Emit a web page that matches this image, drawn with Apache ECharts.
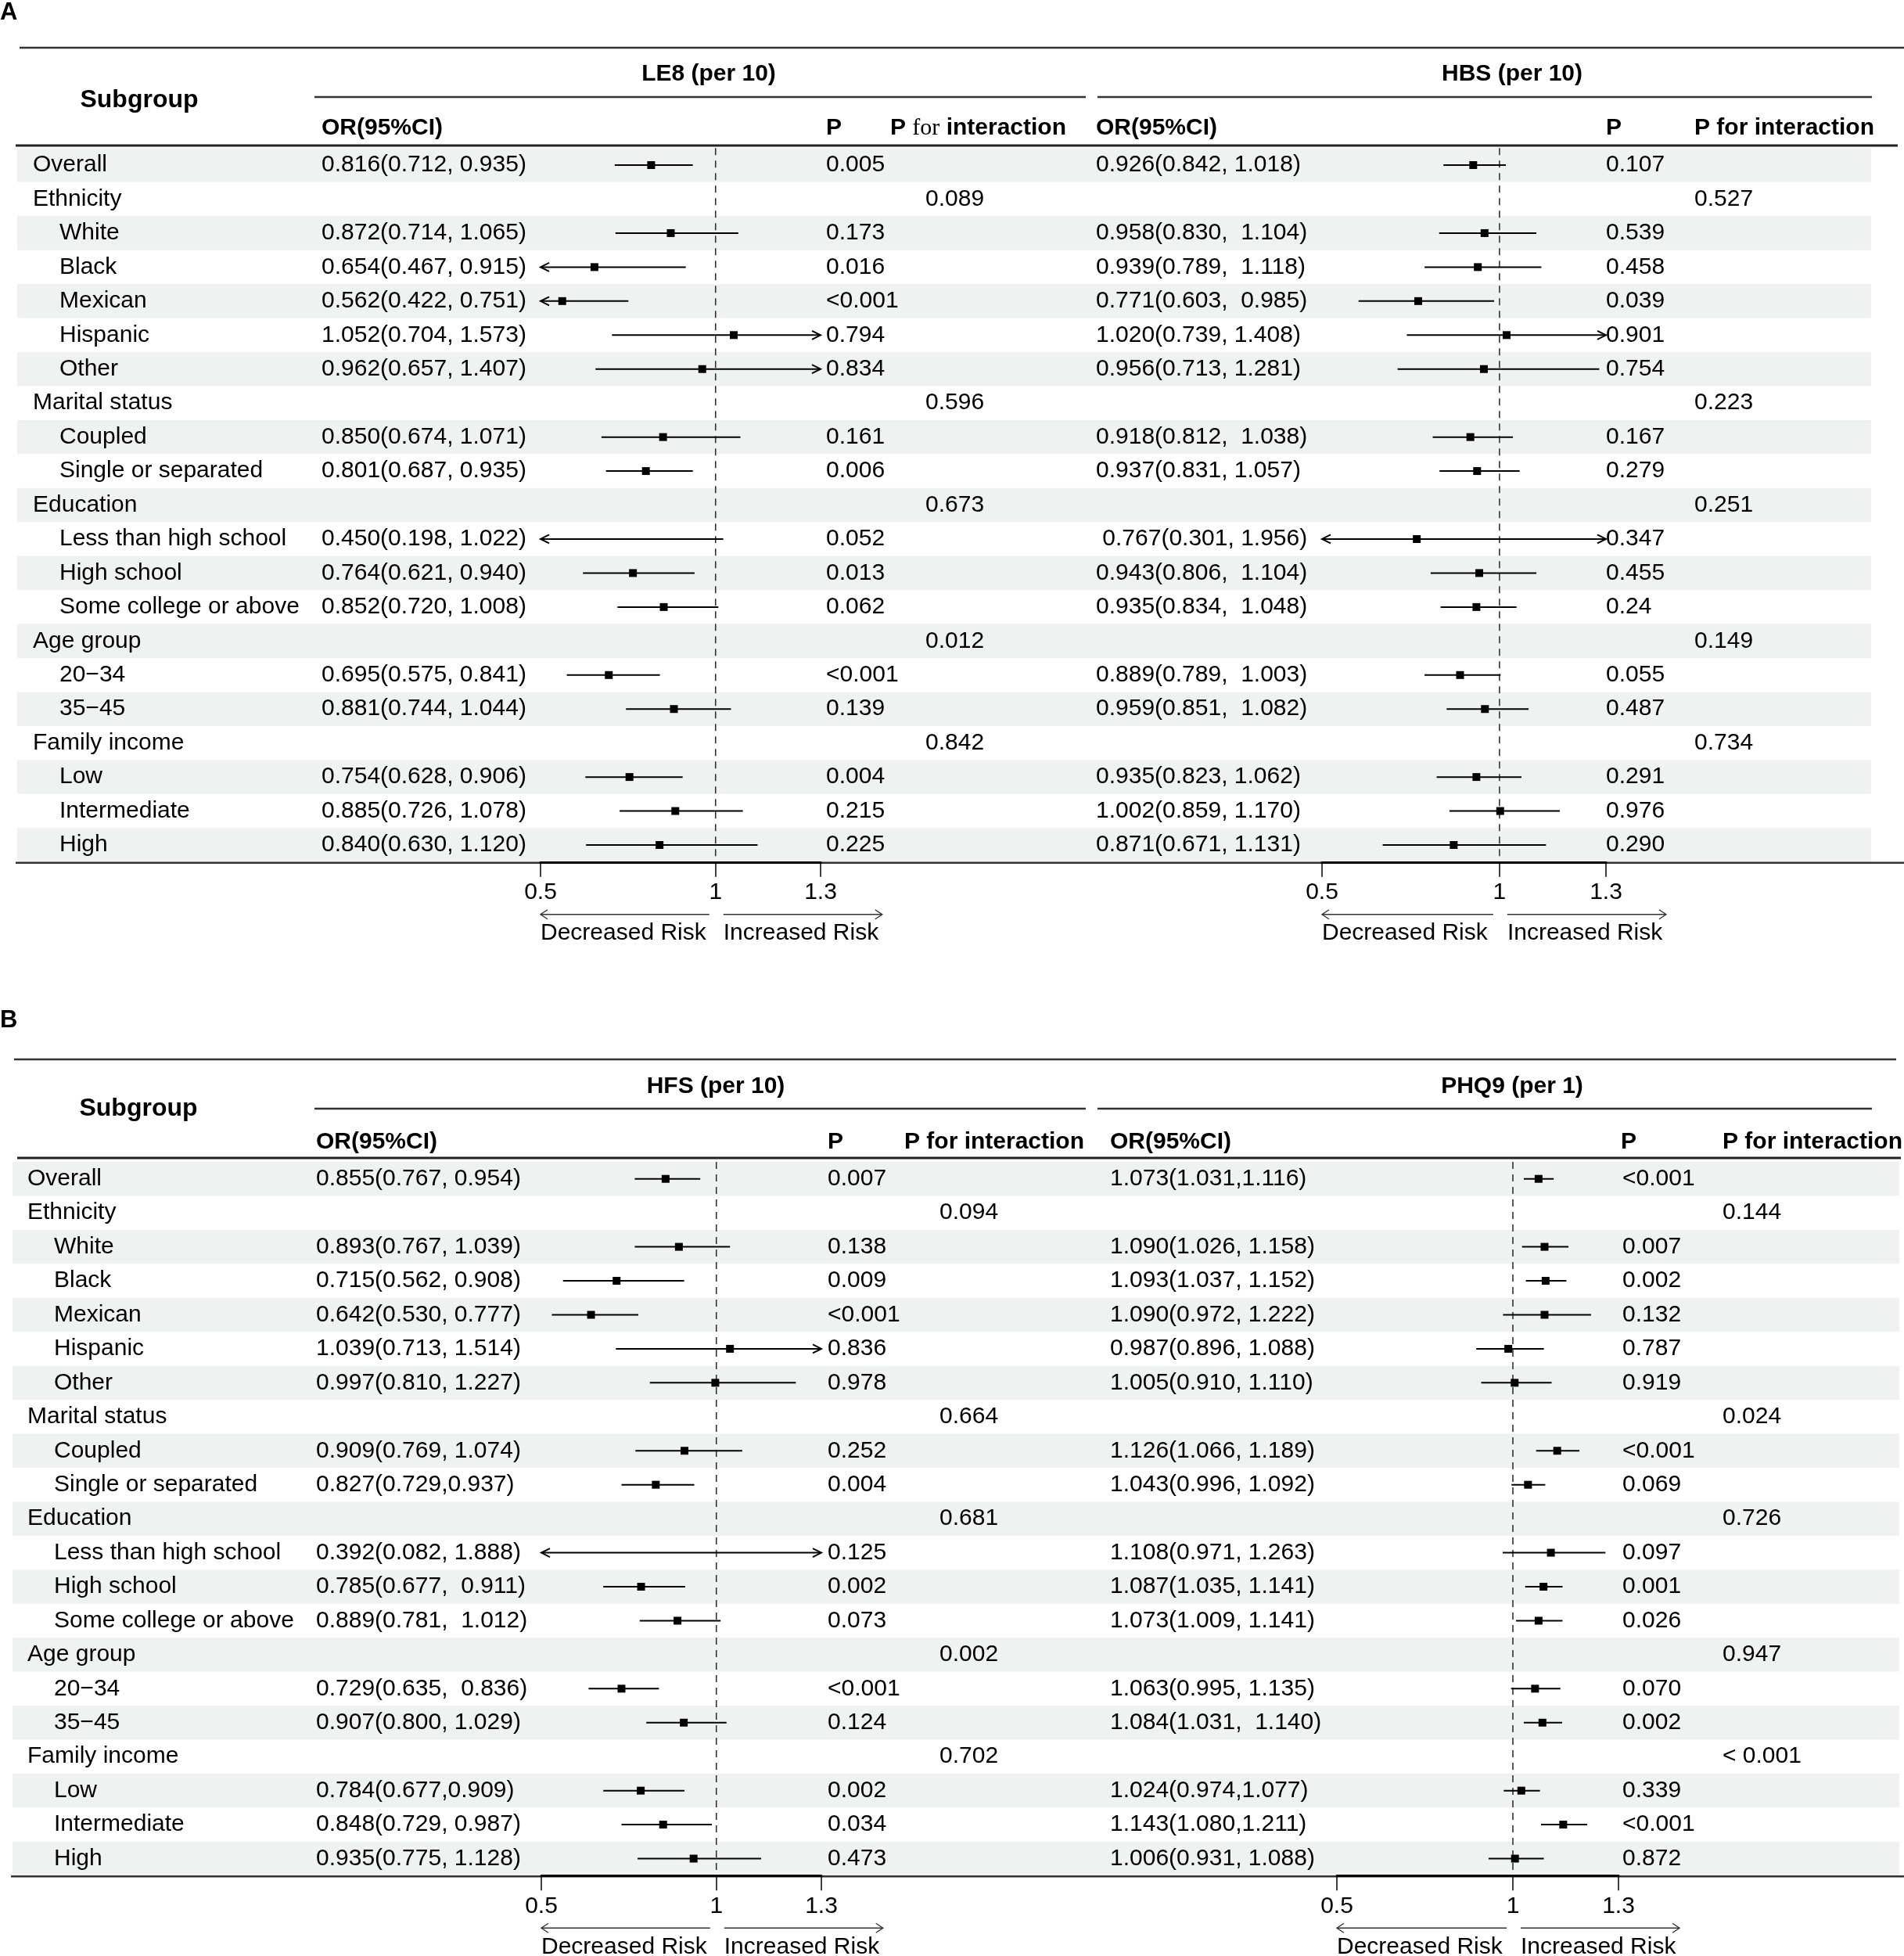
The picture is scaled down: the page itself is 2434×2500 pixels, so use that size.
<!DOCTYPE html>
<html>
<head>
<meta charset="utf-8">
<script src="https://cdn.jsdelivr.net/npm/echarts@6/dist/echarts.min.js"></script>
<style>html,body{margin:0;padding:0;background:#fff}#c{width:2434px;height:2500px}</style>
</head>
<body>
<div id="c"></div>
<script>
// ---------------- DATA ----------------
const subgroups = ['Overall','Ethnicity','White','Black','Mexican','Hispanic','Other','Marital status','Coupled','Single or separated','Education','Less than high school','High school','Some college or above','Age group','20\u221234','35\u221245','Family income','Low','Intermediate','High'];
const levels = [0,0,1,1,1,1,1,0,1,1,0,1,1,1,0,1,1,0,1,1,1];

const le8CI = ['0.816(0.712, 0.935)','','0.872(0.714, 1.065)','0.654(0.467, 0.915)','0.562(0.422, 0.751)','1.052(0.704, 1.573)','0.962(0.657, 1.407)','','0.850(0.674, 1.071)','0.801(0.687, 0.935)','','0.450(0.198, 1.022)','0.764(0.621, 0.940)','0.852(0.720, 1.008)','','0.695(0.575, 0.841)','0.881(0.744, 1.044)','','0.754(0.628, 0.906)','0.885(0.726, 1.078)','0.840(0.630, 1.120)'];
const le8P = ['0.005','','0.173','0.016','<0.001','0.794','0.834','','0.161','0.006','','0.052','0.013','0.062','','<0.001','0.139','','0.004','0.215','0.225'];
const le8PInt = ['','0.089','','','','','','0.596','','','0.673','','','','0.012','','','0.842','','',''];

const hbsCI = ['0.926(0.842, 1.018)','','0.958(0.830,  1.104)','0.939(0.789,  1.118)','0.771(0.603,  0.985)','1.020(0.739, 1.408)','0.956(0.713, 1.281)','','0.918(0.812,  1.038)','0.937(0.831, 1.057)','',' 0.767(0.301, 1.956)','0.943(0.806,  1.104)','0.935(0.834,  1.048)','','0.889(0.789,  1.003)','0.959(0.851,  1.082)','','0.935(0.823, 1.062)','1.002(0.859, 1.170)','0.871(0.671, 1.131)'];
const hbsP = ['0.107','','0.539','0.458','0.039','0.901','0.754','','0.167','0.279','','0.347','0.455','0.24','','0.055','0.487','','0.291','0.976','0.290'];
const hbsPInt = ['','0.527','','','','','','0.223','','','0.251','','','','0.149','','','0.734','','',''];

const hfsCI = ['0.855(0.767, 0.954)','','0.893(0.767, 1.039)','0.715(0.562, 0.908)','0.642(0.530, 0.777)','1.039(0.713, 1.514)','0.997(0.810, 1.227)','','0.909(0.769, 1.074)','0.827(0.729,0.937)','','0.392(0.082, 1.888)','0.785(0.677,  0.911)','0.889(0.781,  1.012)','','0.729(0.635,  0.836)','0.907(0.800, 1.029)','','0.784(0.677,0.909)','0.848(0.729, 0.987)','0.935(0.775, 1.128)'];
const hfsP = ['0.007','','0.138','0.009','<0.001','0.836','0.978','','0.252','0.004','','0.125','0.002','0.073','','<0.001','0.124','','0.002','0.034','0.473'];
const hfsPInt = ['','0.094','','','','','','0.664','','','0.681','','','','0.002','','','0.702','','',''];

const phq9CI = ['1.073(1.031,1.116)','','1.090(1.026, 1.158)','1.093(1.037, 1.152)','1.090(0.972, 1.222)','0.987(0.896, 1.088)','1.005(0.910, 1.110)','','1.126(1.066, 1.189)','1.043(0.996, 1.092)','','1.108(0.971, 1.263)','1.087(1.035, 1.141)','1.073(1.009, 1.141)','','1.063(0.995, 1.135)','1.084(1.031,  1.140)','','1.024(0.974,1.077)','1.143(1.080,1.211)','1.006(0.931, 1.088)'];
const phq9P = ['<0.001','','0.007','0.002','0.132','0.787','0.919','','<0.001','0.069','','0.097','0.001','0.026','','0.070','0.002','','0.339','<0.001','0.872'];
const phq9PInt = ['','0.144','','','','','','0.024','','','0.726','','','','0.947','','','< 0.001','','',''];

const axisMin = 0.5, axisMax = 1.3;
const tickValues = [0.5, 1, 1.3];
const refValue = 1;

// ---------------- LAYOUT / STYLE ----------------
const FONT = "'Liberation Sans', Arial, Helvetica, sans-serif";
const FS = 30;
const SHADE = '#eff2f1';
const NROW = subgroups.length;

const panels = [
  { tag:'A', tagY:16, topLine:[61,25,2434], titleY:95, subX:178, subY:128, subLineY:124,
    headY:164, headLine:[186,20,2426], rowTop:189.3, rowH:43.45, shade:[22,2392], lab:[42,76],
    cols:{orL:411,pL:1056,piL:1183,orR:1401,pR:2053,piR:2166},
    heads:{orL:411,pL:1056,piL:1138,orR:1401,pR:2053,piR:2166},
    forestL:[691,1049], forestR:[1690,2053], titleL:906, titleR:1933, serifFor:true,
    nameL:'LE8 (per 10)', nameR:'HBS (per 10)',
    L:{ci:le8CI,p:le8P,pi:le8PInt}, R:{ci:hbsCI,p:hbsP,pi:hbsPInt} },
  { tag:'B', tagY:1304, topLine:[1354,18,2424], titleY:1389, subX:177, subY:1417, subLineY:1417,
    headY:1460, headLine:[1480,22,2430], rowTop:1485, rowH:43.44, shade:[16,2428], lab:[35,69],
    cols:{orL:404,pL:1058,piL:1201,orR:1419,pR:2074,piR:2202},
    heads:{orL:404,pL:1058,piL:1156,orR:1419,pR:2072,piR:2202},
    forestL:[692,1050], forestR:[1709,2069], titleL:915, titleR:1933, serifFor:false,
    nameL:'HFS (per 10)', nameR:'PHQ9 (per 1)',
    L:{ci:hfsCI,p:hfsP,pi:hfsPInt}, R:{ci:phq9CI,p:phq9P,pi:phq9PInt} }
];

function parseCI(arr) {
  const out = [];
  arr.forEach((s, i) => {
    const m = s.match(/([\d.]+)\(([\d.]+),\s*([\d.]+)\)/);
    if (m) out.push([i, +m[1], +m[2], +m[3]]);
  });
  return out;
}

// ---------------- BUILD OPTION ----------------
const grid = [], xAxis = [], yAxis = [], series = [], graphics = [];

function txt(x, y, text, opt) {
  return { type:'text', x:x, y:y, z:20, style: Object.assign({
    text:text, fontSize:FS, fontFamily:FONT, fill:'#000', align:'left', verticalAlign:'middle'
  }, opt || {}) };
}
function hline(y, x1, x2, w, c) {
  return { type:'line', z:20, shape:{x1:x1, y1:y, x2:x2, y2:y}, style:{stroke:c || '#333', lineWidth:w || 2.5} };
}

panels.forEach((P, pi) => {
  const gh = NROW * P.rowH;
  const bottom = P.rowTop + gh;

  // headers (static text)
  graphics.push(txt(0, P.tagY, P.tag, {fontWeight:'bold', fontSize:31}));
  graphics.push(hline(P.topLine[0], P.topLine[1], P.topLine[2], 2.5, '#333'));
  graphics.push(txt(P.subX, P.subY, 'Subgroup', {fontWeight:'bold', fontSize:32, align:'center'}));
  graphics.push(txt(P.titleL, P.titleY, P.nameL, {fontWeight:'bold', align:'center'}));
  graphics.push(txt(P.titleR, P.titleY, P.nameR, {fontWeight:'bold', align:'center'}));
  graphics.push(hline(P.subLineY, 402, 1388, 2.5, '#333'));
  graphics.push(hline(P.subLineY, 1403, 2393, 2.5, '#333'));
  const hb = {fontWeight:'bold'};
  graphics.push(txt(P.heads.orL, P.headY, 'OR(95%CI)', hb));
  graphics.push(txt(P.heads.pL, P.headY, 'P', hb));
  if (P.serifFor) {
    graphics.push(txt(P.heads.piL, P.headY, '{b|P }{s|for}{b| interaction}', {
      rich:{ b:{fontWeight:'bold', fontFamily:FONT, fontSize:FS, fill:'#000'},
             s:{fontWeight:'normal', fontFamily:"'Liberation Serif', 'Times New Roman', serif", fontSize:FS, fill:'#000'} }
    }));
  } else {
    graphics.push(txt(P.heads.piL, P.headY, 'P for interaction', hb));
  }
  graphics.push(txt(P.heads.orR, P.headY, 'OR(95%CI)', hb));
  graphics.push(txt(P.heads.pR, P.headY, 'P', hb));
  graphics.push(txt(P.heads.piR, P.headY, 'P for interaction', hb));
  graphics.push(hline(P.headLine[0], P.headLine[1], P.headLine[2], 3, '#222'));
  graphics.push(hline(bottom + 1, P.shade[0] - 2, 2434, 2.5, '#333'));

  // table grid
  const gT = grid.length;
  grid.push({ left:0, width:2434, top:P.rowTop, height:gh });
  xAxis.push({ type:'value', gridIndex:gT, min:0, max:2434, show:false });
  yAxis.push({ type:'value', gridIndex:gT, min:-0.5, max:NROW - 0.5, inverse:true, show:false });
  series.push({
    type:'custom', xAxisIndex:gT, yAxisIndex:gT, z:1, silent:true,
    data: subgroups.map((s, i) => [i]),
    renderItem: function (params, api) {
      const i = api.value(0);
      const top = api.coord([0, i - 0.5])[1];
      const bot = api.coord([0, i + 0.5])[1];
      const y = (top + bot) / 2;
      const ch = [];
      if (i % 2 === 0) {
        ch.push({ type:'rect', shape:{x:P.shade[0], y:top, width:P.shade[1] - P.shade[0], height:bot - top}, style:{fill:SHADE} });
      }
      const t = (x, s) => { if (s) ch.push({ type:'text', x:x, y:y, style:{text:s, fontSize:FS, fontFamily:FONT, fill:'#000', align:'left', verticalAlign:'middle'} }); };
      t(P.lab[levels[i]], subgroups[i]);
      t(P.cols.orL, P.L.ci[i]); t(P.cols.pL, P.L.p[i]); t(P.cols.piL, P.L.pi[i]);
      t(P.cols.orR, P.R.ci[i]); t(P.cols.pR, P.R.p[i]); t(P.cols.piR, P.R.pi[i]);
      return { type:'group', children:ch };
    }
  });

  // forest grids
  [[P.forestL, P.L], [P.forestR, P.R]].forEach(([fx, D]) => {
    const g = grid.length;
    grid.push({ left:fx[0], width:fx[1] - fx[0], top:P.rowTop, height:gh });
    xAxis.push({
      type:'value', gridIndex:g, min:axisMin, max:axisMax, position:'bottom', z:30,
      axisLine:{ show:true, onZero:false, lineStyle:{color:'#000', width:3} },
      axisTick:{ show:true, customValues:tickValues, length:19, lineStyle:{color:'#000', width:1.5} },
      axisLabel:{ show:true, customValues:tickValues, fontSize:FS, fontFamily:FONT, color:'#000', margin:24,
        formatter: v => String(v) },
      splitLine:{show:false}
    });
    yAxis.push({ type:'value', gridIndex:g, min:-0.5, max:NROW - 0.5, inverse:true, show:false });

    // reference line
    series.push({
      type:'line', xAxisIndex:g, yAxisIndex:g, z:3, silent:true, symbol:'none', animation:false,
      data:[[refValue, -0.5], [refValue, NROW - 0.5]],
      lineStyle:{ color:'#333', width:1.6, type:[9, 7] }
    });

    // CI + estimates
    series.push({
      type:'custom', xAxisIndex:g, yAxisIndex:g, z:4, silent:true,
      encode:{ x:[1, 2, 3], y:0 },
      data: parseCI(D.ci),
      renderItem: function (params, api) {
        const i = api.value(0), est = api.value(1), lo = api.value(2), hi = api.value(3);
        const y = api.coord([refValue, i])[1];
        const x0 = api.coord([Math.max(lo, axisMin), i])[0];
        const x1 = api.coord([Math.min(hi, axisMax), i])[0];
        const st = { stroke:'#000', lineWidth:2, fill:null };
        const ch = [{ type:'line', shape:{x1:x0, y1:y, x2:x1, y2:y}, style:st }];
        if (lo < axisMin) ch.push({ type:'polyline', shape:{points:[[x0 + 11, y - 5.5], [x0, y], [x0 + 11, y + 5.5]]}, style:st });
        if (hi > axisMax) ch.push({ type:'polyline', shape:{points:[[x1 - 11, y - 5.5], [x1, y], [x1 - 11, y + 5.5]]}, style:st });
        if (est >= axisMin && est <= axisMax) {
          const xe = api.coord([est, i])[0];
          ch.push({ type:'rect', shape:{x:xe - 5, y:y - 5, width:10, height:10}, style:{fill:'#000'} });
        }
        return { type:'group', children:ch };
      }
    });

    // Decreased / Increased risk annotation
    series.push({
      type:'custom', xAxisIndex:g, yAxisIndex:g, z:4, silent:true, clip:false,
      data:[[0]],
      renderItem: function (params, api) {
        const yb = api.coord([refValue, NROW - 0.5])[1];
        const xa = api.coord([axisMin, 0])[0];
        const xr = api.coord([refValue, 0])[0];
        const ya = yb + 67, yt = yb + 91;
        const st = { stroke:'#333', lineWidth:1.4, fill:null };
        const rs = xr + 10, re = rs + 203;
        return { type:'group', children:[
          { type:'line', shape:{x1:xa, y1:ya, x2:xr - 8, y2:ya}, style:st },
          { type:'polyline', shape:{points:[[xa + 9, ya - 6], [xa, ya], [xa + 9, ya + 6]]}, style:st },
          { type:'line', shape:{x1:rs, y1:ya, x2:re, y2:ya}, style:st },
          { type:'polyline', shape:{points:[[re - 9, ya - 6], [re, ya], [re - 9, ya + 6]]}, style:st },
          { type:'text', x:xa, y:yt, style:{text:'Decreased Risk', fontSize:FS, fontFamily:FONT, fill:'#000', align:'left', verticalAlign:'middle'} },
          { type:'text', x:rs, y:yt, style:{text:'Increased Risk', fontSize:FS, fontFamily:FONT, fill:'#000', align:'left', verticalAlign:'middle'} }
        ]};
      }
    });
  });
});

const chart = echarts.init(document.getElementById('c'), null, { renderer:'canvas', width:2434, height:2500 });
chart.setOption({
  animation:false,
  backgroundColor:'#fff',
  grid, xAxis, yAxis, series,
  graphic:{ elements:graphics }
});
</script>
</body>
</html>
